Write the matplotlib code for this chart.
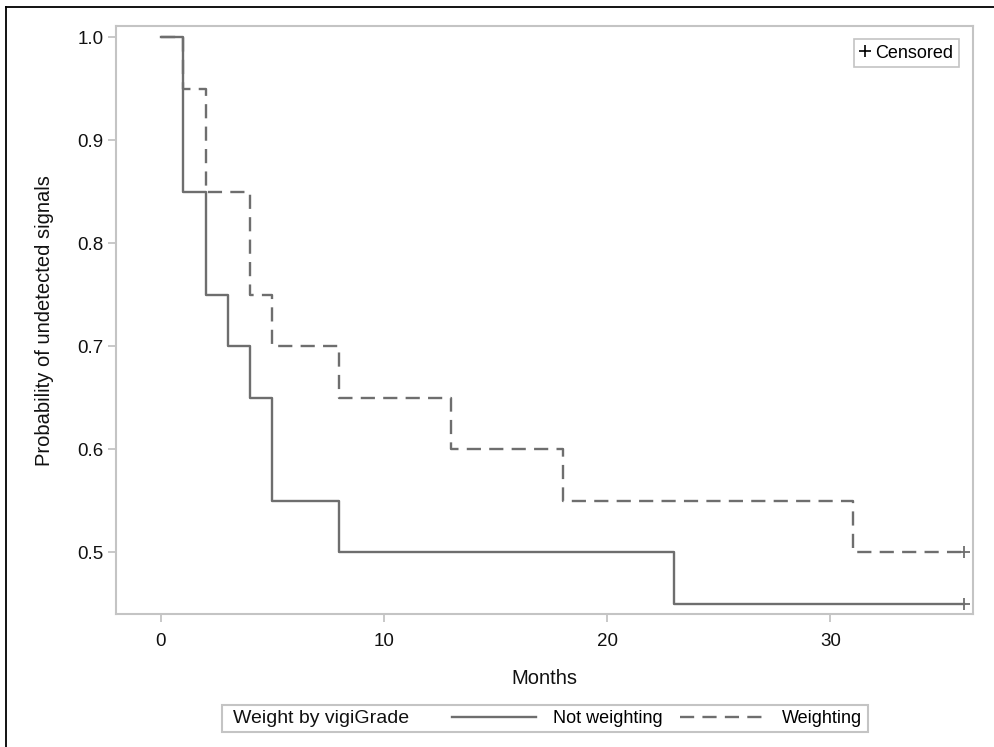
import matplotlib.pyplot as plt
from matplotlib.lines import Line2D
from matplotlib.patches import Rectangle

plt.rcParams['font.family'] = ['Liberation Sans', 'DejaVu Sans']

# Kaplan-Meier style step data (months, probability)
months_not = [0, 1, 2, 3, 4, 5, 8, 23, 36]
prob_not = [1.0, 0.85, 0.75, 0.70, 0.65, 0.55, 0.50, 0.45, 0.45]

months_w = [0, 1, 2, 4, 5, 8, 13, 18, 31, 36]
prob_w = [1.0, 0.95, 0.85, 0.75, 0.70, 0.65, 0.60, 0.55, 0.50, 0.50]

# censored points at end of follow-up
cens_x = [36, 36]
cens_y = [0.45, 0.50]

line_col = '#6e6e6e'
frame_col = '#c4c4c4'

fig = plt.figure(figsize=(9.94, 7.47), dpi=100)
ax = fig.add_axes([0.117, 0.178, 0.862, 0.787])

ax.step(months_not, prob_not, where='post', color=line_col, lw=1.7)
ax.step(months_w, prob_w, where='post', color=line_col, lw=1.7,
        linestyle=(0, (6, 3.5)))
ax.plot(cens_x, cens_y, linestyle='none', marker='+', color=line_col,
        markersize=9, markeredgewidth=1.3)

ax.set_xlim(-2, 36.4)
ax.set_ylim(0.44, 1.011)
ax.set_xticks([0, 10, 20, 30])
ax.set_yticks([0.5, 0.6, 0.7, 0.8, 0.9, 1.0])
ax.set_yticklabels(['0.5', '0.6', '0.7', '0.8', '0.9', '1.0'])
ax.tick_params(axis='both', colors=frame_col, labelcolor='#111111',
               labelsize=13.5, length=6, width=1.3)
ax.tick_params(axis='x', pad=8)
ax.tick_params(axis='y', pad=3)
for s in ax.spines.values():
    s.set_color(frame_col)
    s.set_linewidth(1.5)

ax.set_xlabel('Months', fontsize=14.5, labelpad=13, color='#111111')
ax.set_ylabel('Probability of undetected signals', fontsize=14.5,
              labelpad=17, color='#111111')

# censored legend inside the plot
cens_handle = Line2D([], [], linestyle='none', marker='+', color='black',
                     markersize=8, markeredgewidth=1.2)
leg1 = ax.legend([cens_handle], ['Censored'], loc='upper right',
                 fontsize=13, handlelength=0.6, handletextpad=0.3,
                 borderpad=0.3, fancybox=False, edgecolor=frame_col,
                 framealpha=1, bbox_to_anchor=(0.994, 0.993))
leg1.get_frame().set_linewidth(1.2)

# bottom legend
h_not = Line2D([], [], color=line_col, lw=1.7)
h_w = Line2D([], [], color=line_col, lw=1.7, linestyle=(0, (6, 3.5)))
fig.legend([h_not, h_w], ['Not weighting', 'Weighting'], ncol=2,
           loc='center left', bbox_to_anchor=(0.438, 0.038), frameon=False,
           fontsize=13, handlelength=4.7, handletextpad=0.9,
           columnspacing=1.0)
fig.text(0.234, 0.038, 'Weight by vigiGrade', fontsize=14, va='center',
         color='#111111')
fig.patches.append(Rectangle((0.223, 0.020), 0.650, 0.036,
                             transform=fig.transFigure, fill=False,
                             edgecolor=frame_col, lw=1.5))

# outer border lines (left and top)
fig.add_artist(Line2D([0.006, 0.006], [0, 0.991], color='black', lw=1.3,
                      transform=fig.transFigure))
fig.add_artist(Line2D([0.006, 1.0], [0.991, 0.991], color='black', lw=1.3,
                      transform=fig.transFigure))

fig.savefig('out.png', dpi=100)
